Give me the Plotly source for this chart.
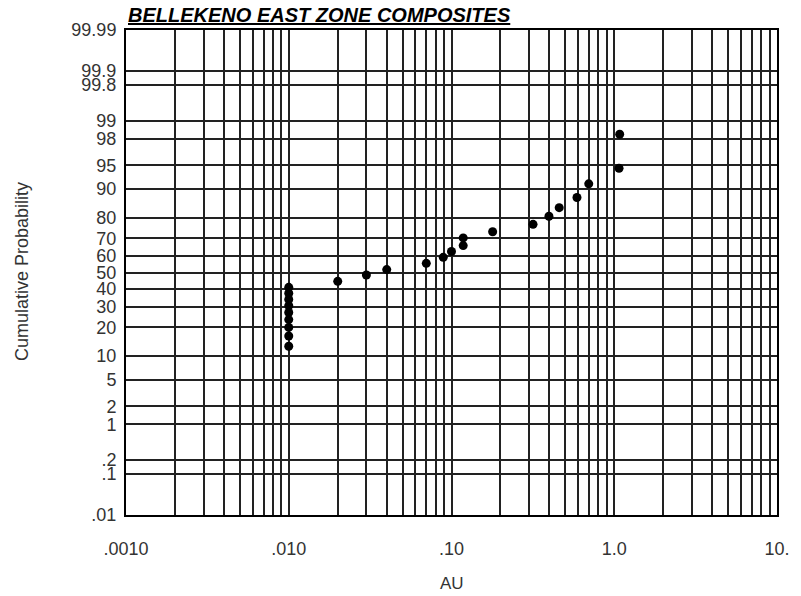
import numpy as np
import plotly.graph_objects as go
from statistics import NormalDist

# 累积概率图 - 对数X轴 + 正态概率Y轴
au = [0.01, 0.01, 0.01, 0.01, 0.01, 0.01, 0.01, 0.01, 0.01,
      0.02, 0.03, 0.04, 0.07, 0.089, 0.10, 0.118, 0.118, 0.179,
      0.317, 0.397, 0.459, 0.59, 0.697, 1.07, 1.08]
cum_prob = [12.9, 16.5, 20.0, 23.5, 27.0, 30.5, 34.0, 37.5, 41.0,
            44.6, 48.5, 51.8, 55.6, 59.2, 62.6, 66.0, 70.2, 73.4,
            77.0, 80.6, 84.0, 87.5, 91.3, 94.5, 98.3]

prob_ticks = [99.99, 99.9, 99.8, 99, 98, 95, 90, 80, 70, 60, 50, 40, 30, 20, 10, 5, 2, 1, 0.2, 0.1, 0.01]
prob_labels = ["99.99", "99.9", "99.8", "99", "98", "95", "90", "80", "70", "60", "50",
               "40", "30", "20", "10", "5", "2", "1", ".2", ".1", ".01"]
x_ticks = [0.001, 0.01, 0.1, 1, 10]
x_labels = [".0010", ".010", ".10", "1.0", "10."]

nd = NormalDist()


def probit(p):
    return nd.inv_cdf(p / 100.0)


x_minor = [m * d for d in [0.001, 0.01, 0.1, 1] for m in range(2, 10)]
z_max = probit(99.99)

# 页面body自带8px边距
OFF = 8

fig = go.Figure()
fig.add_trace(go.Scatter(x=au, y=[probit(p) for p in cum_prob],
                         mode='markers',
                         marker=dict(color='black', size=9),
                         showlegend=False))

FONT = "Liberation Sans, Arial, sans-serif"

fig.update_layout(
    width=801, height=596,
    margin=dict(l=126 - OFF, r=801 + OFF - 777, t=30 - OFF, b=596 + OFF - 515),
    paper_bgcolor='white', plot_bgcolor='white',
    font=dict(family=FONT, color='#333333'),
    title=dict(text="<u><b><i>BELLEKENO EAST ZONE COMPOSITES</i></b></u>",
               font=dict(family=FONT, size=20, color='black'),
               x=(128 - OFF) / 801, xanchor='left', xref='container',
               y=1 - (15 - OFF) / 596, yanchor='middle', yref='container'),
)

fig.update_xaxes(type='log', range=[-3, 1],
                 tickvals=x_ticks, ticktext=x_labels,
                 tickfont=dict(size=18, color='#333333'),
                 ticklabelstandoff=16,
                 showgrid=True, gridcolor='#222222', gridwidth=1.5,
                 minor=dict(tickvals=x_minor, showgrid=True, gridcolor='#222222', gridwidth=1.5),
                 showline=True, linecolor='black', linewidth=2, mirror=True,
                 zeroline=False)

fig.update_yaxes(range=[-z_max, z_max],
                 tickvals=[probit(p) for p in prob_ticks], ticktext=prob_labels,
                 tickfont=dict(size=18, color='#333333'),
                 ticklabelstandoff=4,
                 showgrid=True, gridcolor='#222222', gridwidth=1.5,
                 showline=True, linecolor='black', linewidth=2, mirror=True,
                 zeroline=False)

fig.add_annotation(text="Cumulative Probability", textangle=-90,
                   xref='paper', yref='paper', x=(22 - 126) / 651, y=(515 - 272) / 485,
                   xanchor='center', yanchor='middle',
                   showarrow=False, font=dict(family=FONT, size=18, color='#333333'))
fig.add_annotation(text="AU", xref='paper', yref='paper',
                   x=(452 - 126) / 651, y=-(583 - 515) / 485,
                   xanchor='center', yanchor='middle',
                   showarrow=False, font=dict(family=FONT, size=17, color='#333333'))

fig.write_html("out.html")
